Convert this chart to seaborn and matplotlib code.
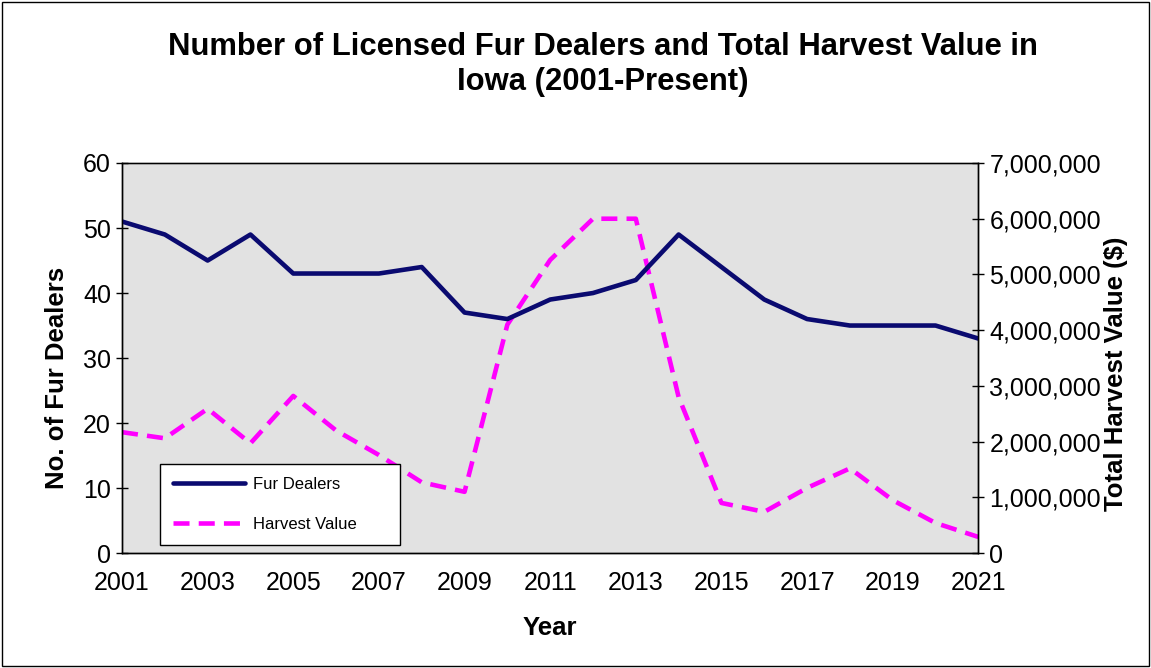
import numpy as np
import pandas as pd
import matplotlib.pyplot as plt
import seaborn as sns
from matplotlib.ticker import FuncFormatter

# ---------------------------------------------------------------------
# Data
# ---------------------------------------------------------------------
years = list(range(2001, 2022))
fur_dealers = [51, 49, 45, 49, 43, 43, 43, 44, 37, 36, 39, 40, 42, 49, 44, 39,
               36, 35, 35, 35, 33]
harvest_value = [2170000, 2060000, 2590000, 1970000, 2820000, 2200000, 1760000,
                 1270000, 1100000, 4100000, 5260000, 6000000, 6000000, 2800000,
                 900000, 740000, 1170000, 1520000, 950000, 540000, 290000]

df = pd.DataFrame({'Year': years, 'Fur Dealers': fur_dealers,
                   'Harvest Value': harvest_value})

sns.set_theme(style='white')
plt.rcParams['font.family'] = ['Liberation Sans', 'DejaVu Sans']
plt.rcParams['text.color'] = 'black'
plt.rcParams['axes.labelcolor'] = 'black'

fig = plt.figure(figsize=(11.51, 6.68), dpi=100)
ax = fig.add_axes([0.106, 0.172, 0.744, 0.584])
ax2 = ax.twinx()

# dealers axis on top, background drawn by the twin
ax.set_zorder(ax2.get_zorder() + 1)
ax.patch.set_visible(False)
ax2.patch.set_visible(True)
ax2.patch.set_facecolor('#e2e2e2')

sns.lineplot(data=df, x='Year', y='Fur Dealers', ax=ax, color='#0a0a70',
             linewidth=3.3, label='Fur Dealers', legend=False)
sns.lineplot(data=df, x='Year', y='Harvest Value', ax=ax2, color='#ff00ff',
             linewidth=3.3, linestyle=(0, (3.5, 2)), label='Harvest Value',
             legend=False)

ax.set_xlim(2001, 2021)
ax.set_ylim(0, 60)
ax2.set_ylim(0, 7000000)
ax.set_xticks(years)
ax.set_xticklabels([str(y) if (y - 2001) % 2 == 0 else '' for y in years])
ax.set_yticks(range(0, 61, 10))
ax2.set_yticks(range(0, 7000001, 1000000))
ax2.yaxis.set_major_formatter(FuncFormatter(lambda v, p: f'{int(v):,}'))

for a in (ax, ax2):
    a.tick_params(axis='both', which='major', labelsize=18, direction='inout',
                  length=8, width=1, color='black', labelcolor='black')
    for s in a.spines.values():
        s.set_color('black')
        s.set_linewidth(1)
ax.tick_params(axis='x', pad=9)
ax.tick_params(axis='y', pad=4)
ax2.tick_params(axis='y', pad=4)
ax2.spines['top'].set_color('#555555')

ax.set_xlabel('Year', fontsize=18.5, fontweight='bold', labelpad=15)
ax.set_ylabel('No. of Fur Dealers', fontsize=18.5, fontweight='bold',
              labelpad=10)
ax2.set_ylabel('Total Harvest Value ($)', fontsize=18.5, fontweight='bold',
               labelpad=2)
ax.yaxis.label.set_y(0.45)
ax2.yaxis.label.set_y(0.46)

fig.suptitle('Number of Licensed Fur Dealers and Total Harvest Value in\nIowa (2001-Present)',
             x=0.524, y=0.952, fontsize=22.3, fontweight='bold', linespacing=1.2)

h1, l1 = ax.get_legend_handles_labels()
h2, l2 = ax2.get_legend_handles_labels()
leg = ax.legend(h1 + h2, l1 + l2, loc='lower left',
                bbox_to_anchor=(0.044, 0.02, 0.281, 0.2), mode='expand',
                fontsize=12, frameon=True, fancybox=False, handlelength=4.3,
                handletextpad=0.5, labelspacing=1.5, borderpad=0.8,
                borderaxespad=0)
leg.get_frame().set_edgecolor('black')
leg.get_frame().set_facecolor('white')
leg.get_frame().set_alpha(1)
leg.get_frame().set_linewidth(1)

fig.patches.append(plt.Rectangle((0.002, 0.003), 0.996, 0.994,
                                 transform=fig.transFigure, fill=False,
                                 edgecolor='black', linewidth=1))

fig.savefig('out.png', dpi=100)
